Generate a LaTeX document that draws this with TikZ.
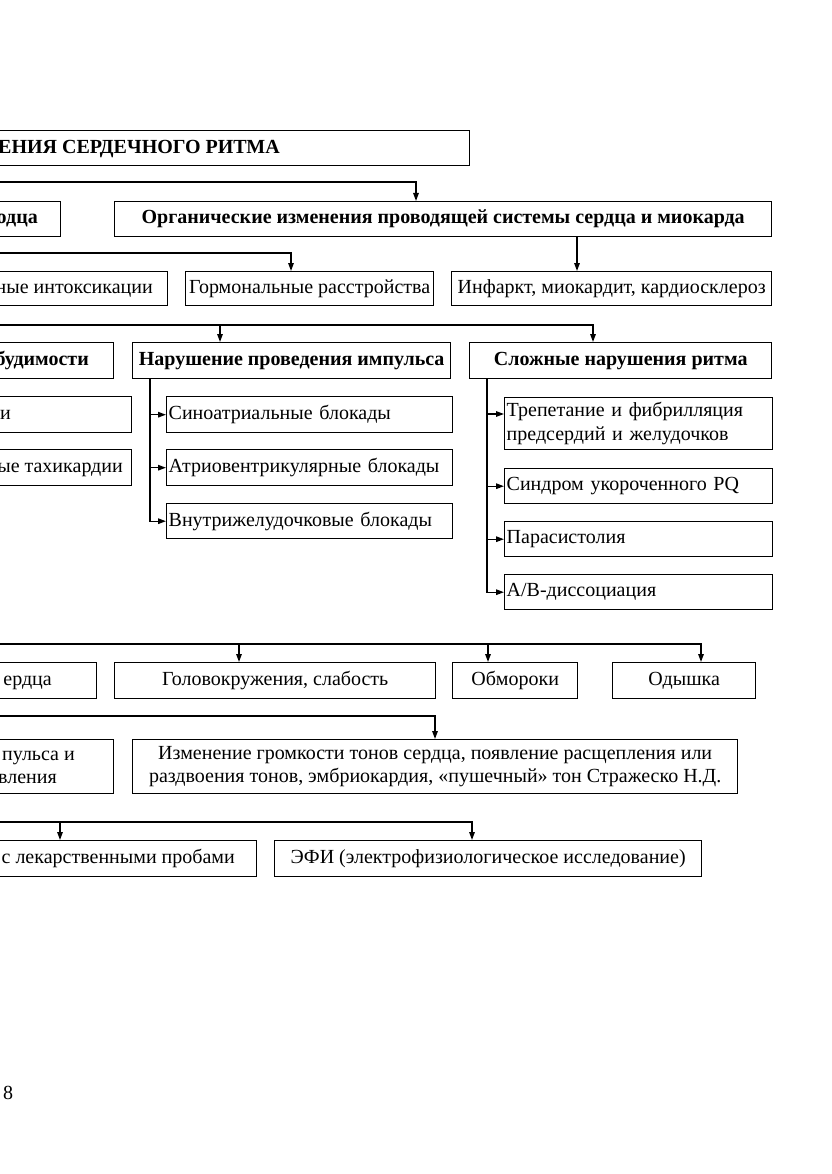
\documentclass[tikz,border=0pt]{standalone}
\usepackage{fontspec}
\setmainfont{Liberation Serif}
\usetikzlibrary{arrows.meta}
\tikzset{
  x=1pt, y=-1pt,
  box/.style={draw, line width=1.4pt, inner sep=0pt, anchor=north west,
    font=\fontsize{20}{23.5}\selectfont},
  lbox/.style={box, align=left, inner xsep=2pt},
  txt/.style={inner sep=0pt, anchor=base east, font=\fontsize{20}{23.5}\selectfont},
  bold/.style={font=\fontsize{20}{23.5}\selectfont\bfseries},
  arr/.style={line width=1.4pt, -{Triangle[length=8pt,width=5.5pt]}},
  ln/.style={line width=1.4pt}
}
\begin{document}
\begin{tikzpicture}
\useasboundingbox (0,0) rectangle (831,1174);
\begin{scope}
\clip (0,0) rectangle (831,1174);
% title
\node[box, minimum width=509, minimum height=35] (T) at (-40,130) {};
\node[txt, bold] (Tt) at (280,154) {ЕНИЯ СЕРДЕЧНОГО РИТМА};
% row 2
\node[box, minimum width=100, minimum height=35] (A1) at (-40,201) {};
\node[txt, bold] (A1t) at (38,223.5) {одца};
\node[box, bold, minimum width=657, minimum height=35] (A2) at (114,201) {Органические изменения проводящей системы сердца и миокарда};
\coordinate (c1) at (-10,182);
\draw[arr] (c1) -| ([xshift=302pt]A2.north west);
% row 3
\node[box, minimum width=207, minimum height=34] (B1) at (-40,271) {};
\node[txt] (B1t) at (153,293) {ные интоксикации};
\node[box, minimum width=248, minimum height=34] (B2) at (185,271) {Гормональные расстройства};
\node[box, minimum width=320, minimum height=34] (B3) at (451,271) {Инфаркт, миокардит, кардиосклероз};
\draw[arr] ([xshift=463pt]A2.south west) -- ([xshift=126pt]B3.north west);
\coordinate (c2) at (-10,253);
\draw[arr] (c2) -| ([xshift=106pt]B2.north west);
% row 4
\node[box, minimum width=153, minimum height=36] (C1) at (-40,342) {};
\node[txt, bold] (C1t) at (89,365) {будимости};
\node[box, bold, minimum width=318, minimum height=36] (C2) at (132,342) {Нарушение проведения импульса};
\node[box, bold, minimum width=302, minimum height=36] (C3) at (469,342) {Сложные нарушения ритма};
\coordinate (c3) at (-10,325);
\draw[arr] (c3) -| ([xshift=124pt]C3.north west);
\coordinate (j3) at ([xshift=88pt]C2.north west);
\draw[arr] (c3 -| j3) -- (j3);
% left column
\node[box, minimum width=171, minimum height=36] (D1) at (-40,396) {};
\node[txt] (D1t) at (11,419) {и};
\node[box, minimum width=171, minimum height=36] (D2) at (-40,449) {};
\node[txt] (D2t) at (123,472) {ые тахикардии};
% conduction
\node[lbox, text width=282, minimum height=36] (E1) at (166,396) {Синоатриальные блокады};
\node[lbox, text width=282, minimum height=36] (E2) at (166,449) {Атриовентрикулярные блокады};
\node[lbox, text width=282, minimum height=35] (E3) at (166,503) {Внутрижелудочковые блокады};
\coordinate (t2) at ([xshift=18pt]C2.south west);
\draw[arr] (t2) |- (E3.west);
\draw[arr] (t2 |- E1.west) -- (E1.west);
\draw[arr] (t2 |- E2.west) -- (E2.west);
% complex
\node[lbox, text width=264, minimum height=52] (F1) at (504,397) {Трепетание и фибрилляция\\предсердий и желудочков};
\node[lbox, text width=264, minimum height=35] (F2) at (504,468) {Синдром укороченного PQ};
\node[lbox, text width=264, minimum height=35] (F3) at (504,521) {Парасистолия};
\node[lbox, text width=264, minimum height=35] (F4) at (504,574) {А/В-диссоциация};
\coordinate (t3) at ([xshift=18pt]C3.south west);
\coordinate (f1a) at ([yshift=-17pt]F1.north west);
\draw[arr] (t3) |- (F4.west);
\draw[arr] (t3 |- f1a) -- (f1a);
\draw[arr] (t3 |- F2.west) -- (F2.west);
\draw[arr] (t3 |- F3.west) -- (F3.west);
% symptoms
\node[box, minimum width=136, minimum height=36] (G1) at (-40,662) {};
\node[txt] (G1t) at (52,685) {ердца};
\node[box, minimum width=321, minimum height=36] (G2) at (114,662) {Головокружения, слабость};
\node[box, minimum width=125, minimum height=36] (G3) at (452,662) {Обмороки};
\node[box, minimum width=143, minimum height=36] (G4) at (612,662) {Одышка};
\coordinate (c6) at (-10,644);
\draw[arr] (c6) -| ([xshift=89pt]G4.north west);
\coordinate (j6a) at ([xshift=125pt]G2.north west);
\coordinate (j6b) at ([xshift=36pt]G3.north west);
\draw[arr] (c6 -| j6a) -- (j6a);
\draw[arr] (c6 -| j6b) -- (j6b);
% auscultation
\node[box, minimum width=153, minimum height=54] (H1) at (-40,739) {};
\node[txt] (H1a) at (75,760) {пульса и};
\node[txt] (H1b) at (57,783) {вления};
\node[box, align=center, minimum width=605, minimum height=54] (H2) at (132,739) {Изменение громкости тонов сердца, появление расщепления или\\раздвоения тонов, эмбриокардия, «пушечный» тон Стражеско Н.Д.};
\coordinate (c7) at (-10,716);
\draw[arr] (c7) -| ([xshift=303pt]H2.north west);
% diagnostics
\node[box, minimum width=296, minimum height=36] (I1) at (-40,840) {};
\node[txt] (I1t) at (235,863) {с лекарственными пробами};
\node[box, minimum width=427, minimum height=36] (I2) at (274,840) {ЭФИ (электрофизиологическое исследование)};
\coordinate (c8) at (-10,822);
\draw[arr] (c8) -| ([xshift=198pt]I2.north west);
\coordinate (j8) at ([xshift=100pt]I1.north west);
\draw[arr] (c8 -| j8) -- (j8);
% page number
\node[txt, anchor=base west] (pg) at (3,1099) {8};
\end{scope}
\end{tikzpicture}
\end{document}
